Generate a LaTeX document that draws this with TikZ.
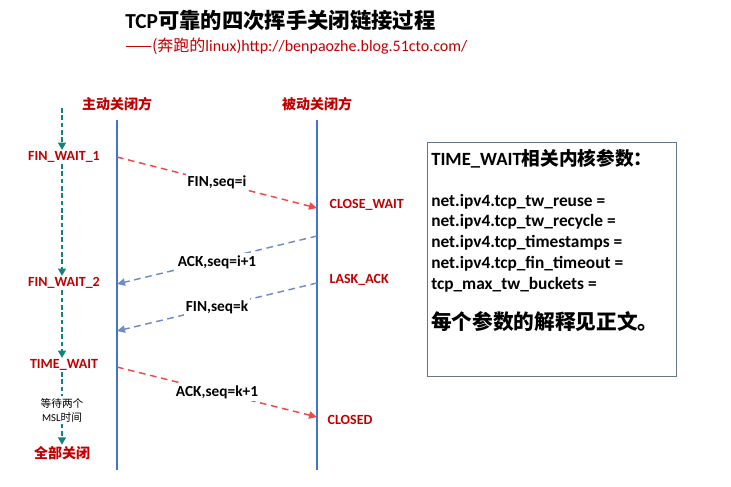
\documentclass[tikz,border=0pt]{standalone}
\usepackage{fontspec}
\setmainfont{Carlito}
\newfontfamily\cjk{Noto Sans CJK SC}
\usetikzlibrary{arrows.meta}
\definecolor{stateRed}{RGB}{192,0,0}
\definecolor{msgRed}{RGB}{240,72,72}
\definecolor{msgBlue}{RGB}{112,140,200}
\definecolor{lifeBlue}{RGB}{68,114,196}
\definecolor{flowTeal}{RGB}{20,130,125}
\definecolor{boxGrey}{RGB}{100,118,135}
\begin{document}
\begin{tikzpicture}[x=0.75pt,y=0.75pt,yscale=-1,xscale=1,
    lifeline/.style={draw=lifeBlue, line width=1.5pt},
    msgred/.style={draw=msgRed, line width=1.1pt, dash pattern={on 5pt off 3.5pt}, -{Triangle[length=6pt,width=5.5pt]}},
    msgblue/.style={draw=msgBlue, line width=1.1pt, dash pattern={on 5pt off 3.5pt}, -{Triangle[length=6pt,width=5.5pt]}},
    flow/.style={draw=flowTeal, line width=1.1pt, dash pattern={on 3.5pt off 2pt}, -{Triangle[length=5.5pt,width=6pt]}},
    statelbl/.style={text=stateRed, font=\fontsize{10.5}{12}\selectfont\bfseries, inner sep=1pt},
    msglbl/.style={fill=white, font=\fontsize{11.5}{13}\selectfont\bfseries, inner sep=1.5pt},
    boxline/.style={anchor=west, inner sep=0pt, font=\fontsize{13}{15}\selectfont\bfseries}]
\useasboundingbox (0,0) rectangle (731,486);
% Text Node
\node (title) at (125,20) [anchor=west, inner sep=0pt, font=\fontsize{16}{19}\selectfont\bfseries] {TCP{\cjk 可靠的四次挥手关闭链接过程}};
% Text Node
\node (sub) at (125,46) [anchor=west, inner sep=0pt, text=stateRed, font=\fontsize{12}{14}\selectfont] {{\cjk ——(奔跑的}linux)http://benpaozhe.blog.51cto.com/};
% Text Node
\node (actv) at (117,104) [statelbl] {\cjk 主动关闭方};
% Text Node
\node (pasv) at (317,104) [statelbl] {\cjk 被动关闭方};
%Straight Lines
\coordinate (atop) at (117,120);
\coordinate (abot) at (117,470);
\coordinate (btop) at (317,120);
\coordinate (bbot) at (317,470);
\draw [lifeline] (atop) -- (abot);
\draw [lifeline] (btop) -- (bbot);
% states of the active side
\node (fw1) at (64,157) [statelbl] {FIN\_WAIT\_1};
\node (fw2) at (64,283) [statelbl] {FIN\_WAIT\_2};
\node (tw) at (64,365) [statelbl] {TIME\_WAIT};
\node (msl) at (62,410) [align=center, inner sep=1pt, font=\fontsize{8}{10.5}\selectfont] {{\cjk 等待两个}\\MSL{\cjk 时间}};
\node (allc) at (62,453) [statelbl] {\cjk 全部关闭};
\coordinate (start) at (62,108);
\draw [flow] (start) -- (fw1.north -| start);
\draw [flow] (fw1.south -| start) -- (fw2.north -| start);
\draw [flow] (fw2.south -| start) -- (tw.north -| start);
\draw [flow, -] (tw.south -| start) -- (msl.north);
\draw [flow] (msl.south) -- (allc.north);
% states of the passive side
\node (cw) at (328,205) [statelbl, anchor=west] {CLOSE\_WAIT};
\node (la) at (328,280) [statelbl, anchor=west] {LASK\_ACK};
\node (cl) at (326,420) [statelbl, anchor=west] {CLOSED};
% messages
\coordinate (a1) at (117,157);
\coordinate (b1) at (317,208);
\coordinate (b2) at (317,236);
\coordinate (a2) at (117,284);
\coordinate (b3) at (317,283);
\coordinate (a3) at (117,331);
\coordinate (a4) at (117,367);
\coordinate (b4) at (317,417);
\draw [msgred] (a1) -- node[msglbl, pos=0.5] (m1) {FIN,seq=i} (b1);
\draw [msgblue] (b2) -- node[msglbl, pos=0.5, yshift=-1.5pt] (m2) {ACK,seq=i+1} (a2);
\draw [msgblue] (b3) -- node[msglbl, pos=0.5] (m3) {FIN,seq=k} (a3);
\draw [msgred] (a4) -- node[msglbl, pos=0.5] (m4) {ACK,seq=k+1} (b4);
%Shape: Rectangle
\node (box) at (551.5,259) [draw=boxGrey, line width=0.6pt, minimum width=186.75pt, minimum height=175.5pt] {};
% Text Node
\node (bh) at (431,159) [boxline, font=\fontsize{14}{16}\selectfont\bfseries] {TIME\_WAIT{\cjk 相关内核参数：}};
\node (p1) at (431,202) [boxline] {net.ipv4.tcp\_tw\_reuse =};
\node (p2) at (431,222) [boxline] {net.ipv4.tcp\_tw\_recycle =};
\node (p3) at (431,243) [boxline] {net.ipv4.tcp\_timestamps =};
\node (p4) at (431,264) [boxline] {net.ipv4.tcp\_fin\_timeout =};
\node (p5) at (431,285) [boxline] {tcp\_max\_tw\_buckets =};
\node (note) at (431,322) [boxline, font=\fontsize{15.5}{18}\selectfont\bfseries] {\cjk 每个参数的解释见正文。};
\end{tikzpicture}
\end{document}
